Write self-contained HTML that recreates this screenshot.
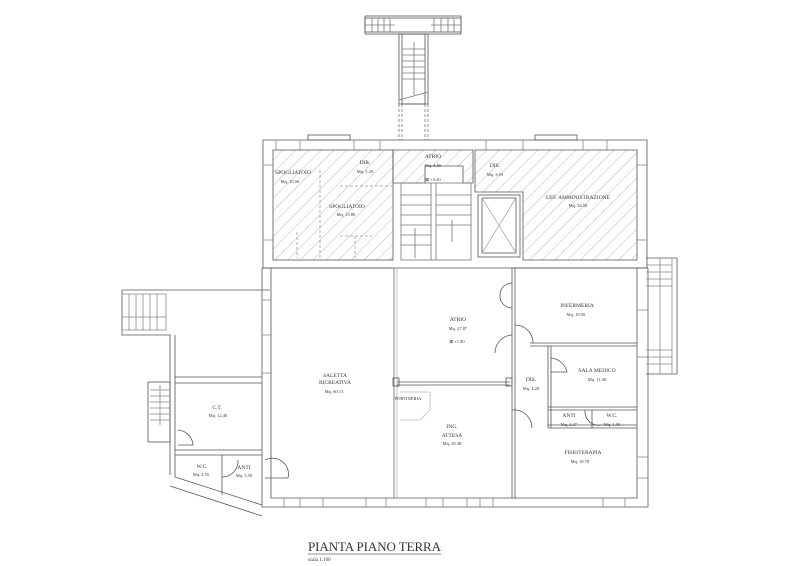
<!DOCTYPE html>
<html><head><meta charset="utf-8"><style>
html,body{margin:0;padding:0;background:#fff;}
svg{display:block;}
text{font-family:"Liberation Serif",serif;fill:#333;}
</style></head><body>
<svg width="800" height="566" viewBox="0 0 800 566" xmlns="http://www.w3.org/2000/svg">
<defs>
<pattern id="h" width="9" height="9" patternUnits="userSpaceOnUse" patternTransform="rotate(45)">
<line x1="0" y1="0" x2="0" y2="9" stroke="#999" stroke-width="0.7"/>
</pattern>
</defs>
<g fill="none" stroke="#555" stroke-width="0.8">
<!-- top stairs -->
<rect x="365" y="16" width="96" height="18"/>
<rect x="365" y="18" width="96" height="14"/>
<rect x="399" y="34" width="29" height="70"/>
<rect x="402" y="34" width="23" height="70"/>
<g stroke="#777">
<line x1="372" y1="18" x2="372" y2="32"/><line x1="378" y1="18" x2="378" y2="32"/><line x1="384" y1="18" x2="384" y2="32"/><line x1="390" y1="18" x2="390" y2="32"/>
<line x1="434" y1="18" x2="434" y2="32"/><line x1="441" y1="18" x2="441" y2="32"/><line x1="448" y1="18" x2="448" y2="32"/><line x1="454" y1="18" x2="454" y2="32"/>
<line x1="365" y1="25" x2="395" y2="25"/><line x1="431" y1="25" x2="461" y2="25"/>
<line x1="402" y1="49" x2="425" y2="49"/><line x1="402" y1="55" x2="425" y2="55"/><line x1="402" y1="61" x2="425" y2="61"/><line x1="402" y1="67" x2="425" y2="67"/><line x1="402" y1="73" x2="425" y2="73"/><line x1="402" y1="79" x2="425" y2="79"/>
<line x1="414" y1="42" x2="414" y2="95"/>
<line x1="399" y1="100" x2="428" y2="92"/>
<line x1="399" y1="104" x2="399" y2="140" stroke-dasharray="3,2"/><line x1="428" y1="104" x2="428" y2="140" stroke-dasharray="3,2"/>
<line x1="402" y1="104" x2="402" y2="140" stroke-dasharray="3,2"/><line x1="425" y1="104" x2="425" y2="140" stroke-dasharray="3,2"/>
</g>
<!-- top block outer -->
<path d="M263 140 H647 V268 H263 Z"/>
<rect x="308" y="135" width="42" height="5"/><rect x="535" y="135" width="42" height="5"/>
<g stroke="#888">
<line x1="276" y1="140" x2="276" y2="150"/><line x1="300" y1="140" x2="300" y2="150"/><line x1="354" y1="140" x2="354" y2="150"/><line x1="380" y1="140" x2="380" y2="150"/>
<line x1="486" y1="140" x2="486" y2="150"/><line x1="523" y1="140" x2="523" y2="150"/><line x1="583" y1="140" x2="583" y2="150"/><line x1="607" y1="140" x2="607" y2="150"/>
<line x1="263" y1="165" x2="273" y2="165"/><line x1="263" y1="240" x2="273" y2="240"/><line x1="637" y1="165" x2="647" y2="165"/><line x1="637" y1="240" x2="647" y2="240"/>
</g>
<!-- hatched rooms -->
<rect x="273" y="150" width="120" height="110" fill="url(#h)"/>
<path d="M393 150 H473 V183 H463 V166 H425 V183 H393 Z" fill="url(#h)"/>
<path d="M475 150 H637 V260 H523 V192 H475 Z" fill="url(#h)"/>
<rect x="478" y="195" width="42" height="62" fill="#fff"/>
<rect x="482" y="198" width="34" height="55"/>
<line x1="482" y1="198" x2="516" y2="253" stroke="#aaa"/><line x1="516" y1="198" x2="482" y2="253" stroke="#aaa"/>
<!-- stairs in top -->
<g stroke="#777">
<rect x="401" y="183" width="70" height="77"/>
<line x1="431" y1="183" x2="431" y2="260"/><line x1="436" y1="183" x2="436" y2="260"/>
<line x1="401" y1="195" x2="431" y2="195"/><line x1="401" y1="205" x2="431" y2="205"/><line x1="401" y1="215" x2="431" y2="215"/><line x1="401" y1="225" x2="431" y2="225"/><line x1="401" y1="235" x2="431" y2="235"/><line x1="401" y1="245" x2="431" y2="245"/>
<line x1="436" y1="195" x2="471" y2="195"/><line x1="436" y1="205" x2="471" y2="205"/><line x1="436" y1="215" x2="471" y2="215"/><line x1="436" y1="225" x2="471" y2="225"/>
<line x1="415" y1="228" x2="415" y2="258"/><line x1="452" y1="220" x2="452" y2="242"/>
</g>
<g stroke="#999" stroke-dasharray="3,2">
<line x1="340" y1="186" x2="393" y2="186"/><line x1="320" y1="170" x2="320" y2="258"/><line x1="297" y1="232" x2="297" y2="258"/><line x1="355" y1="236" x2="355" y2="258"/>
<line x1="340" y1="236" x2="372" y2="236"/>
</g>
<!-- main body -->
<path d="M262 268 V507 H648 V268"/>
<path d="M271 268 V498 H637 V268"/>
<line x1="262" y1="268" x2="393" y2="268"/><line x1="512" y1="268" x2="648" y2="268"/>
<g stroke="#888">
<line x1="284" y1="498" x2="284" y2="507"/><line x1="300" y1="498" x2="300" y2="507"/><line x1="323" y1="498" x2="323" y2="507"/><line x1="366" y1="498" x2="366" y2="507"/><line x1="386" y1="498" x2="386" y2="507"/>
<line x1="426" y1="498" x2="426" y2="507"/><line x1="443" y1="498" x2="443" y2="507"/><line x1="467" y1="498" x2="467" y2="507"/><line x1="480" y1="498" x2="480" y2="507"/><line x1="493" y1="498" x2="493" y2="507"/>
<line x1="603" y1="498" x2="603" y2="507"/><line x1="625" y1="498" x2="625" y2="507"/>
<line x1="262" y1="300" x2="271" y2="300"/><line x1="262" y1="335" x2="271" y2="335"/><line x1="262" y1="373" x2="271" y2="373"/>
<line x1="637" y1="310" x2="648" y2="310"/><line x1="637" y1="357" x2="648" y2="357"/><line x1="637" y1="457" x2="648" y2="457"/><line x1="637" y1="478" x2="648" y2="478"/>
</g>
<!-- left wing -->
<path d="M122 290 H270 M122 290 V335 H170 V475"/>
<path d="M122 294 H166 V330 H122" stroke="#888"/>
<g stroke="#888"><line x1="129" y1="294" x2="129" y2="330"/><line x1="136" y1="294" x2="136" y2="330"/><line x1="143" y1="294" x2="143" y2="330"/><line x1="150" y1="294" x2="150" y2="330"/><line x1="157" y1="294" x2="157" y2="330"/><line x1="122" y1="317" x2="166" y2="317"/></g>
<path d="M175 335 V477 L262 505"/>
<path d="M170 486 L262 516"/>
<line x1="175" y1="377" x2="262" y2="377"/><line x1="175" y1="383" x2="262" y2="383"/>
<line x1="175" y1="450" x2="262" y2="450"/><line x1="175" y1="455" x2="262" y2="455"/>
<rect x="148" y="382" width="22" height="60"/>
<g stroke="#888"><line x1="150" y1="390" x2="170" y2="390"/><line x1="150" y1="396" x2="170" y2="396"/><line x1="150" y1="402" x2="170" y2="402"/><line x1="150" y1="408" x2="170" y2="408"/><line x1="150" y1="414" x2="170" y2="414"/><line x1="150" y1="420" x2="170" y2="420"/><line x1="160" y1="385" x2="160" y2="425"/></g>
<path d="M178 430 A16 16 0 0 1 193 445 H178"/>
<line x1="222" y1="455" x2="222" y2="495"/>
<path d="M222 477 A16 16 0 0 0 238 460"/>
<path d="M265 460 A16 16 0 0 1 288 478 H265"/>
<!-- interior partitions -->
<line x1="394" y1="268" x2="394" y2="498" stroke="#666"/><line x1="397" y1="268" x2="397" y2="498" stroke="#aaa"/>
<line x1="397" y1="382" x2="510" y2="382"/><line x1="397" y1="385" x2="510" y2="385"/>
<rect x="393" y="378" width="6" height="8"/><rect x="506" y="378" width="6" height="8"/>
<line x1="512" y1="268" x2="512" y2="498"/><line x1="515" y1="268" x2="515" y2="498"/>
<path d="M500 295 A12 12 0 0 1 512 283 M500 295 A12 12 0 0 0 512 308"/>
<line x1="530" y1="343" x2="637" y2="343"/><line x1="530" y1="346" x2="637" y2="346"/>
<path d="M515 325 A18 18 0 0 1 533 343 M495 353 A18 18 0 0 1 512 335"/>
<path d="M512 410 A18 18 0 0 1 532 428 M515 425"/>
<line x1="548" y1="346" x2="548" y2="428"/><line x1="551" y1="346" x2="551" y2="428"/>
<path d="M551 358 A18 18 0 0 1 567 372 H551"/>
<line x1="548" y1="407" x2="637" y2="407"/><line x1="548" y1="410" x2="637" y2="410"/>
<line x1="548" y1="425" x2="637" y2="425"/><line x1="548" y1="428" x2="637" y2="428"/>
<line x1="592" y1="410" x2="592" y2="428"/>
<path d="M585 410 A14 14 0 0 0 602 425"/>
<!-- right stairs -->
<path d="M646 258 H677 V374 H646"/>
<g stroke="#888"><line x1="646" y1="265" x2="672" y2="265"/><line x1="646" y1="272" x2="672" y2="272"/><line x1="646" y1="279" x2="672" y2="279"/><line x1="646" y1="286" x2="672" y2="286"/><line x1="646" y1="350" x2="672" y2="350"/><line x1="646" y1="357" x2="672" y2="357"/><line x1="646" y1="364" x2="672" y2="364"/><line x1="672" y1="258" x2="672" y2="374"/><line x1="660" y1="258" x2="660" y2="374"/></g>
<!-- portineria desk -->
<path d="M400 392 H430 V410 L420 420 H400" stroke="#bbb"/>
</g>
<!-- labels -->
<g font-size="5.5" text-anchor="middle">
<text x="293" y="174">SPOGLIATOIO</text><text x="290" y="183" font-size="4.5">Mq. 10.56</text>
<text x="365" y="164">DIR.</text><text x="365" y="173" font-size="4.5">Mq. 5.29</text>
<text x="347" y="208">SPOGLIATOIO</text><text x="346" y="216" font-size="4.5">Mq. 15.80</text>
<text x="433" y="158">ATRIO</text><text x="433" y="167" font-size="4.5">Mq. 4.50</text><text x="433" y="181" font-size="4.5">⊠ +3.20</text>
<text x="495" y="167">DIS.</text><text x="495" y="176" font-size="4.5">Mq. 3.93</text>
<text x="578" y="199">UFF. AMMINISTRAZIONE</text><text x="578" y="207" font-size="4.5">Mq. 34.50</text>
<text x="458" y="321">ATRIO</text><text x="458" y="330" font-size="4.5">Mq. 27.87</text><text x="457" y="343" font-size="4.5">⊠ +1.80</text>
<text x="577" y="307">INFERMERIA</text><text x="576" y="316" font-size="4.5">Mq. 19.95</text>
<text x="597" y="372">SALA MEDICO</text><text x="597" y="381" font-size="4.5">Mq. 11.40</text>
<text x="531" y="381">DIS.</text><text x="531" y="390" font-size="4.5">Mq. 4.28</text>
<text x="569" y="417">ANTI</text><text x="569" y="426" font-size="4.5">Mq. 2.47</text>
<text x="612" y="417">W.C.</text><text x="612" y="426" font-size="4.5">Mq. 1.50</text>
<text x="583" y="454">FISIOTERAPIA</text><text x="580" y="463" font-size="4.5">Mq. 18.78</text>
<text x="452" y="428">ING.</text><text x="452" y="437">ATTESA</text><text x="452" y="445" font-size="4.5">Mq. 28.38</text>
<text x="408" y="400" font-size="4.5">PORTINERIA</text>
<text x="335" y="377">SALETTA</text><text x="335" y="384">RICREATIVA</text><text x="334" y="393" font-size="4.5">Mq. 60.13</text>
<text x="217" y="409">C.T.</text><text x="218" y="417" font-size="4.5">Mq. 12.40</text>
<text x="202" y="468">W.C.</text><text x="201" y="476" font-size="4.5">Mq. 2.55</text>
<text x="244" y="469">ANTI</text><text x="244" y="477" font-size="4.5">Mq. 3.50</text>
</g>
<text x="308" y="551" font-size="13" fill="#666" textLength="133" lengthAdjust="spacing">PIANTA  PIANO  TERRA</text>
<line x1="308" y1="554" x2="441" y2="554" stroke="#666" stroke-width="0.8"/>
<text x="308" y="561" font-size="5">scala 1:100</text>
</svg>
</body></html>
